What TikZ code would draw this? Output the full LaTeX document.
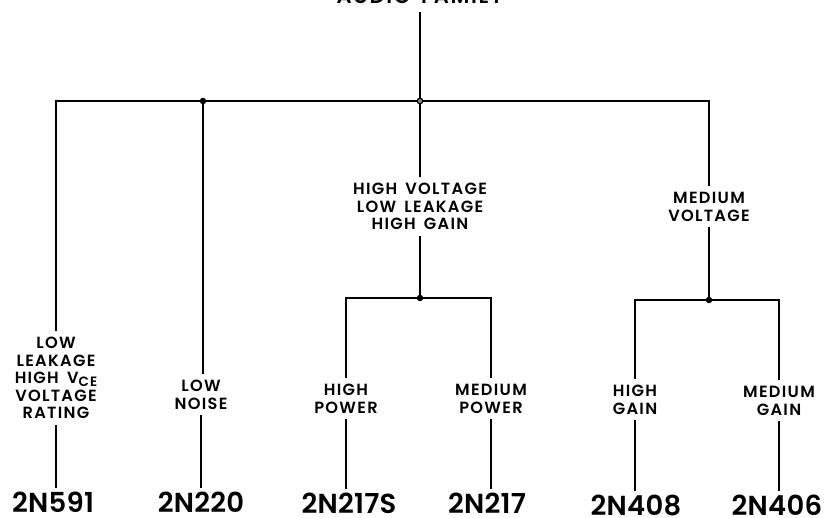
\documentclass[tikz,border=0pt]{standalone}
\usepackage{fontspec}
\setmainfont{Poppins SemiBold}
\newfontfamily\lblfont{Poppins SemiBold}[LetterSpace=8,WordSpace=1.6]
\newfontfamily\partfont{Poppins SemiBold}[LetterSpace=1]
\begin{document}
\begin{tikzpicture}[x=1pt,y=-1pt,
  wire/.style={line width=1.7pt,black},
  lbl/.style={anchor=north,align=center,inner xsep=2pt,inner ysep=6pt,
    font=\lblfont\fontsize{16.2}{17.5}\selectfont},
  part/.style={anchor=north,inner xsep=2pt,inner ysep=4pt,
    font=\partfont\fontsize{27.5}{28}\selectfont},
  jdot/.style={circle,fill=black,inner sep=0pt,minimum size=6.5pt},
  rdot/.style={circle,draw=black,fill=black!45,line width=1.2pt,inner sep=0pt,minimum size=5.5pt}]
\useasboundingbox (0,0) rectangle (825,518);
% title
\node[anchor=base,inner ysep=8pt,font=\lblfont\fontsize{21}{22}\selectfont] (title) at (420,4) {AUDIO\ FAMILY};
% bus junctions
\coordinate (JL) at (56,101);
\coordinate (J1) at (203,101);
\coordinate (J0) at (420,101);
\coordinate (JR) at (709,101);
\coordinate (J3) at (420,298);
\coordinate (J4) at (709,300);
% labels
\node[lbl] (L1) at (56,331) {LOW\\LEAKAGE\\HIGH\ V\raisebox{-3pt}{\fontsize{13.5}{13}\selectfont CE}\\VOLTAGE\\RATING};
\node[lbl] (L2) at (201,374) {LOW\\NOISE};
\node[lbl] (L3) at (420,177) {HIGH\ VOLTAGE\\LOW\ LEAKAGE\\HIGH\ GAIN};
\node[lbl] (L6) at (709,186) {MEDIUM\\VOLTAGE};
\node[lbl] (L4) at (346,378) {HIGH\\POWER};
\node[lbl] (L5) at (491,378) {MEDIUM\\POWER};
\node[lbl] (L7) at (635,379) {HIGH\\GAIN};
\node[lbl] (L8) at (779,380) {MEDIUM\\GAIN};
% part numbers
\node[part] (P1) at (53,488) {2N591};
\node[part] (P2) at (201,488) {2N220};
\node[part] (P4) at (349,489) {2N217S};
\node[part] (P5) at (487,489) {2N217};
\node[part] (P7) at (636,491) {2N408};
\node[part] (P8) at (777,491) {2N406};
% wires
\draw[wire] (title.south) -- (J0);
\draw[wire] (L1.north) |- (JR) -- (L6.north);
\draw[wire] (J1) -- (J1 |- L2.north);
\draw[wire] (J0) -- (L3.north);
\draw[wire] (L3.south) -- (J3);
\draw[wire] (L4.north) |- (J3) -| (L5.north);
\draw[wire] (L6.south) -- (J4);
\draw[wire] (L7.north) |- (J4) -| (L8.north);
\draw[wire] (L1.south) -- (L1.south |- P1.north);
\draw[wire] (L2.south) -- (L2.south |- P2.north);
\draw[wire] (L4.south) -- (L4.south |- P4.north);
\draw[wire] (L5.south) -- (L5.south |- P5.north);
\draw[wire] (L7.south) -- (L7.south |- P7.north);
\draw[wire] (L8.south) -- (L8.south |- P8.north);
% dots
\node[jdot] (D1) at (J1) {};
\node[rdot] (D0) at (J0) {};
\node[jdot] (D3) at (J3) {};
\node[jdot] (D4) at (J4) {};
\end{tikzpicture}
\end{document}
